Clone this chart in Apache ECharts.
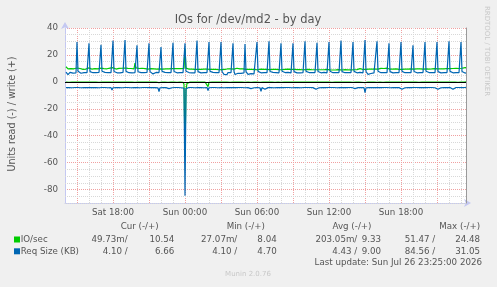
<!DOCTYPE html>
<html>
<head>
<meta charset="utf-8">
<script src="https://cdn.jsdelivr.net/npm/echarts@6/dist/echarts.min.js"></script>
<style>
html,body{margin:0;padding:0;background:#f0f0f0}
#chart{width:497px;height:287px}
</style>
</head>
<body>
<div id="chart"></div>
<script>
// 5 minute samples, first one at Sat 14:05, one row per hour (last value of a row is HH:00)
var startHour = 14 + 5 / 60;
var stepHour = 5 / 60;

// IO/sec read (plotted below zero)
var ioRead = [
  0.1,0.2,0.1,0.3,0.1,0.2,0.1,0.1,0.2,0.1,0.3,0.2,
  0.2,0.1,0.1,0.2,0.3,0.1,0.2,0.1,0.1,0.2,0.1,0.3,
  0.1,0.2,0.3,0.1,0.1,0.2,0.1,0.2,0.1,0.3,0.1,0.2,
  0.2,0.1,0.2,0.1,0.3,0.1,0.2,0.1,0.2,0.1,0.4,0.2,
  0.1,0.2,0.1,0.2,0.1,0.3,0.1,1.5,0.2,0.1,0.2,0.1,
  0.2,0.1,0.3,0.1,0.2,0.1,0.1,0.2,0.1,0.3,0.1,0.2,
  0.1,0.2,0.1,0.1,0.3,0.2,0.1,0.2,0.1,0.1,0.2,0.3,
  0.2,0.1,0.2,0.1,0.1,0.3,0.1,0.2,0.1,0.6,0.2,0.1,
  0.1,0.2,0.1,0.2,0.1,0.1,0.3,0.4,0.1,0.2,0.1,0.2,
  0.2,0.1,0.1,0.3,0.1,0.2,0.1,0.1,0.2,0.3,1.8,51.47,
  6.0,1.2,0.3,0.1,0.2,0.1,0.3,0.1,0.2,0.1,0.1,0.2,
  0.1,0.2,0.1,0.3,0.1,0.1,0.2,0.1,0.2,0.1,3.5,0.3,
  0.2,0.1,0.2,0.1,0.1,0.2,0.3,0.1,0.2,0.1,0.1,0.2,
  0.1,0.3,0.1,0.2,0.1,0.2,0.1,0.1,0.3,0.5,0.1,0.2,
  0.2,0.1,0.1,0.2,0.3,0.1,0.2,0.1,0.1,0.2,0.1,0.3,
  0.1,0.2,0.1,0.1,0.2,0.4,0.1,0.2,0.1,0.3,0.1,0.2,
  0.2,0.1,0.3,0.6,0.1,0.2,0.1,0.4,0.2,0.1,0.2,0.1,
  0.1,0.2,0.1,0.2,0.1,0.3,0.1,0.2,0.1,0.1,0.2,0.3,
  0.2,0.1,0.2,0.1,0.3,0.1,0.1,0.2,0.1,0.2,0.1,0.2,
  0.1,0.3,0.1,0.2,0.1,0.2,0.1,0.1,0.2,0.1,0.3,0.1,
  0.2,0.1,0.1,0.3,0.1,0.2,0.1,0.2,0.1,0.1,0.4,0.2,
  0.1,0.2,0.1,0.1,0.2,0.1,0.3,0.1,0.2,0.1,0.1,0.2,
  0.2,0.1,0.3,0.1,0.1,0.2,0.1,0.2,0.1,0.4,0.2,0.1,
  0.1,0.2,0.1,0.2,0.3,0.1,0.1,0.2,0.1,0.1,0.2,0.3,
  0.2,0.4,0.1,0.1,0.2,0.1,0.2,0.1,0.3,0.1,0.1,0.6,
  0.1,0.2,0.1,0.3,0.1,0.2,0.1,0.2,0.1,0.2,0.1,0.4,
  0.2,0.1,0.2,0.1,0.1,0.3,0.1,0.1,0.2,0.1,0.3,0.1,
  0.1,0.2,0.1,0.2,0.1,0.1,0.2,0.3,0.1,0.2,0.1,0.2,
  0.4,0.1,0.2,0.1,0.3,0.1,0.2,0.1,0.1,0.2,0.1,0.1,
  0.2,0.1,0.1,0.2,0.1,0.3,0.1,0.2,0.1,0.1,0.2,0.1,
  0.1,0.4,0.2,0.1,0.2,0.1,0.1,0.3,0.1,0.2,0.1,0.2,
  0.4,0.1,0.1,0.2,0.1,0.2,0.3,0.1,0.2,0.1,0.1,0.2,
  0.1,0.2,0.1,0.4,0.1,0.1,0.2,0.1,0.3,0.1,0.2,0.1,
  0.1,0.2,0.1,0.1,0.05
];

// IO/sec write (plotted above zero)
var ioWrite = [
  11.2,10.4,9.6,9.9,9.4,9.8,10.1,9.5,9.7,10.0,9.6,10.3,
  9.8,9.4,9.9,10.2,9.6,9.3,9.8,10.0,9.5,9.7,9.9,10.4,
  9.6,9.9,9.4,9.7,10.1,9.8,9.5,9.9,9.6,10.0,9.7,10.2,
  9.9,9.5,9.8,10.3,10.6,9.7,9.4,9.9,10.2,9.6,9.8,10.5,
  10.1,9.7,9.5,9.9,10.4,10.0,9.6,9.8,10.1,9.7,9.9,10.3,
  9.8,9.6,10.0,9.7,9.5,9.9,10.2,9.8,9.6,14.0,10.4,10.2,
  9.7,9.9,9.5,9.8,10.1,9.6,9.4,9.8,10.0,9.7,9.5,10.1,
  9.6,9.8,10.0,9.5,9.7,9.9,9.6,9.4,9.8,10.1,9.7,10.2,
  9.9,9.5,9.7,10.0,9.6,9.8,9.4,9.7,9.9,9.5,9.8,10.3,
  9.6,9.8,9.5,9.7,9.9,9.4,9.6,9.8,9.5,9.7,9.9,24.48,
  10.2,9.4,9.1,9.5,9.3,9.0,9.4,9.2,9.6,9.3,9.1,9.8,
  9.2,9.5,9.0,9.3,9.6,9.1,9.4,9.2,9.0,9.5,9.3,9.9,
  9.3,9.0,9.4,9.2,9.5,9.1,9.3,9.6,9.2,9.0,9.4,9.8,
  9.1,9.4,9.8,9.2,9.9,9.3,9.7,9.5,9.0,9.6,9.2,10.0,
  9.4,9.8,9.2,10.1,9.5,9.1,9.7,9.9,9.3,9.6,9.2,9.9,
  9.2,9.6,9.9,9.3,9.1,9.5,9.2,9.4,9.7,9.1,9.3,9.8,
  9.0,9.3,9.1,9.4,9.2,9.0,9.3,9.1,9.4,9.2,9.0,9.6,
  9.1,9.3,9.0,9.2,9.4,9.1,9.3,9.0,9.2,9.1,9.3,9.7,
  9.0,9.2,9.1,9.3,9.0,9.2,9.4,9.1,9.0,9.3,9.1,9.6,
  9.2,9.0,9.3,9.1,9.2,9.0,9.1,9.3,9.2,9.0,9.1,9.5,
  9.1,9.3,9.0,9.2,9.1,9.3,9.0,9.2,9.1,9.0,9.2,9.6,
  9.0,9.2,9.1,9.0,9.3,9.1,9.0,9.2,9.1,9.3,9.0,9.5,
  8.9,9.1,9.0,8.8,9.0,9.1,8.9,9.0,8.8,9.1,8.9,9.4,
  8.8,9.0,8.9,9.1,8.8,9.0,8.9,8.8,9.0,8.9,9.1,9.4,
  9.0,9.2,9.5,9.1,9.6,9.3,9.8,9.4,9.7,9.2,9.5,9.9,
  9.3,9.6,9.9,9.4,9.8,10.1,9.5,9.7,9.9,9.4,9.6,10.0,
  9.5,9.8,9.4,10.0,9.7,9.5,9.9,9.6,9.8,10.2,9.5,10.0,
  9.4,9.6,9.3,9.5,9.2,9.4,9.6,9.3,9.5,9.2,9.4,9.8,
  9.3,9.5,9.2,9.4,9.6,9.3,9.5,9.7,9.4,9.6,9.3,9.9,
  9.5,9.8,9.4,9.7,9.5,9.9,9.6,9.4,9.8,9.5,9.7,10.1,
  9.6,9.4,9.8,9.5,9.7,9.4,9.6,9.9,9.5,9.8,9.6,10.0,
  9.7,9.5,9.9,9.6,9.8,10.1,9.6,9.8,9.5,9.9,9.7,10.2,
  9.8,10.0,9.6,9.9,10.2,9.7,10.0,9.8,10.1,9.9,10.3,10.4,
  10.1,10.4,10.2,10.6,10.54
];

// Req Size (KB) read (plotted below zero)
var reqRead = [
  4.3,4.2,4.4,4.3,4.2,4.3,4.4,4.2,4.3,4.2,4.4,4.3,
  4.2,4.3,4.2,4.4,4.3,4.2,4.3,4.2,4.4,4.3,4.2,4.3,
  4.3,4.2,5.1,4.3,4.2,4.4,4.3,4.2,4.3,4.4,4.2,4.3,
  4.2,4.4,4.3,4.2,4.3,4.2,4.4,4.3,4.2,4.3,6.0,4.4,
  4.3,4.2,4.3,4.4,4.2,4.3,4.2,4.3,4.4,4.2,4.3,4.2,
  4.4,4.3,4.2,4.3,4.2,4.4,4.3,4.2,4.3,4.2,4.4,4.3,
  4.2,4.3,4.4,4.2,4.3,4.2,4.3,4.4,4.2,4.3,4.2,4.3,
  4.3,4.2,4.3,4.2,4.4,4.3,4.2,4.3,4.5,7.2,4.4,4.3,
  4.2,4.3,4.2,4.4,4.3,4.2,4.3,5.0,4.3,4.2,4.4,4.3,
  4.3,4.2,4.4,4.3,4.2,4.3,4.2,4.4,4.3,4.2,4.6,84.56,
  5.0,4.4,4.3,4.2,4.3,4.4,4.2,4.3,4.2,4.4,4.3,4.2,
  4.3,4.2,4.4,4.3,4.2,4.3,4.4,4.2,4.3,4.2,6.5,4.4,
  4.2,4.3,4.2,4.4,4.3,4.2,4.3,4.2,4.4,4.3,4.2,4.3,
  4.3,4.2,4.4,4.3,4.2,4.3,4.2,4.4,4.3,5.1,4.2,4.3,
  4.2,4.4,4.3,4.2,4.3,4.2,4.4,4.3,4.2,4.3,4.2,4.4,
  4.3,4.2,4.3,4.4,4.2,5.0,4.3,4.2,4.4,4.3,4.2,4.3,
  4.2,4.3,4.4,7.0,4.3,4.2,4.3,5.5,4.2,4.4,4.3,4.2,
  4.3,4.2,4.3,4.2,4.4,4.3,4.2,4.3,4.2,4.4,4.3,4.2,
  4.4,4.3,4.2,4.3,4.2,4.4,4.3,4.2,4.3,4.2,4.4,4.3,
  4.2,4.3,4.4,4.2,4.3,4.2,4.3,4.4,4.2,4.3,4.2,4.3,
  4.3,4.2,4.3,4.4,4.2,4.3,4.2,4.3,4.4,4.2,5.5,4.3,
  4.2,4.4,4.3,4.2,4.3,4.2,4.4,4.3,4.2,4.3,4.2,4.4,
  4.3,4.2,4.4,4.3,4.2,4.3,4.2,4.4,4.3,5.0,4.2,4.3,
  4.2,4.3,4.2,4.4,4.3,4.2,4.3,4.2,4.4,4.3,4.2,4.3,
  4.4,5.0,4.3,4.2,4.3,4.2,4.4,4.3,4.2,4.3,4.2,8.0,
  4.4,4.3,4.2,4.3,4.4,4.2,4.3,4.2,4.4,4.3,4.2,5.0,
  4.3,4.2,4.4,4.3,4.2,4.3,4.2,4.4,4.3,4.2,4.3,4.2,
  4.4,4.3,4.2,4.3,4.2,4.4,4.3,4.2,4.3,4.2,4.4,4.3,
  5.5,4.3,4.2,4.4,4.3,4.2,4.3,4.2,4.4,4.3,4.2,4.3,
  4.2,4.3,4.4,4.2,4.3,4.2,4.3,4.4,4.2,4.3,4.2,4.3,
  4.3,5.0,4.3,4.2,4.4,4.3,4.2,4.3,4.2,4.4,4.3,4.2,
  5.5,4.3,4.2,4.4,4.3,4.2,4.3,4.2,4.4,4.3,4.2,4.3,
  4.2,4.4,4.3,5.5,4.2,4.3,4.2,4.4,4.3,4.2,4.3,4.2,
  4.3,4.2,4.4,4.2,4.10
];

// Req Size (KB) write (plotted above zero), hourly peaks
var reqWrite = [
  7.2,6.9,5.3,6.6,7.0,6.8,6.9,6.5,6.8,7.1,6.7,29.6,
  7.8,6.8,6.9,6.4,6.8,5.6,6.9,7.0,6.7,6.8,6.6,28.6,
  7.6,6.7,6.9,6.8,7.0,6.5,6.9,6.8,6.6,7.0,6.9,27.5,
  7.9,6.8,6.6,7.0,6.9,6.7,6.8,5.8,6.9,6.8,6.7,30.6,
  7.7,6.9,6.8,6.7,7.0,6.9,6.6,6.8,6.9,7.0,6.8,31.05,
  7.8,6.6,6.9,6.8,5.5,6.9,6.7,7.0,6.8,6.9,6.7,27.2,
  7.5,6.8,7.0,6.9,6.7,6.8,6.9,6.5,6.8,7.0,6.8,28.6,
  7.6,6.9,6.7,5.9,6.8,6.9,7.0,6.8,6.6,6.9,6.8,25.9,
  7.8,6.8,6.9,7.0,6.7,6.8,6.9,6.7,5.6,6.8,6.9,29.1,
  7.7,6.9,6.8,6.7,6.9,7.0,6.8,6.9,6.7,6.8,6.9,28.6,
  7.9,6.8,6.7,6.9,7.0,6.8,6.6,6.9,6.8,6.7,6.9,30.6,
  7.6,6.8,6.9,6.7,6.8,5.7,6.9,7.0,6.8,6.9,6.7,29.6,
  7.8,6.9,6.8,7.0,6.7,6.9,6.8,6.9,6.6,6.8,6.9,29.6,
  7.7,6.8,5.6,6.9,6.2,5.4,6.9,6.1,5.9,6.8,6.7,28.6,
  7.8,5.5,6.8,5.2,6.4,6.9,5.6,6.3,6.8,5.8,6.7,28.1,
  7.6,6.2,5.5,6.8,6.9,6.1,6.8,6.7,5.9,6.8,6.9,29.6,
  7.8,6.9,6.8,6.7,7.0,6.9,6.8,6.6,6.9,6.8,6.7,30.1,
  7.7,6.8,6.9,7.0,6.8,6.7,6.9,6.8,6.9,6.7,6.8,28.6,
  7.9,6.7,6.8,6.9,6.7,6.8,7.0,6.9,6.8,6.6,6.9,28.6,
  7.6,6.9,6.8,6.7,6.9,6.8,6.7,6.9,7.0,6.8,6.7,30.1,
  7.8,6.8,6.7,6.9,6.8,7.0,6.9,6.8,6.7,6.9,6.8,29.1,
  7.7,6.9,6.8,6.7,6.8,6.9,7.0,6.8,6.9,6.7,6.8,29.6,
  7.9,6.8,6.9,6.8,6.7,6.9,6.8,5.9,6.8,6.9,6.7,30.6,
  7.6,6.7,6.9,6.8,7.0,6.8,6.9,6.7,6.8,6.9,6.8,29.6,
  7.8,6.9,6.8,6.7,6.9,6.8,7.0,6.8,6.9,6.7,6.8,31.0,
  7.7,6.8,5.6,6.9,6.8,6.2,6.9,6.8,6.7,6.9,6.8,30.1,
  7.9,6.7,6.9,6.8,6.0,6.9,6.8,6.7,6.9,6.8,6.7,28.6,
  7.6,6.9,6.8,6.7,6.9,6.5,6.8,6.9,6.7,6.8,6.9,29.6,
  7.8,6.8,6.9,6.8,6.7,6.9,6.8,6.9,6.7,6.8,6.9,27.2,
  7.7,6.9,6.8,6.7,6.9,6.8,6.9,6.7,6.8,6.9,6.7,29.6,
  7.9,6.8,6.7,6.9,6.8,6.9,6.8,6.7,6.9,6.8,6.7,29.6,
  7.6,6.9,6.8,6.7,6.9,6.8,6.9,6.8,6.7,6.9,6.8,30.1,
  7.8,6.8,6.9,6.7,6.8,6.9,6.8,6.7,6.9,6.8,6.7,29.6,
  7.7,6.9,6.8,6.5,6.66
];

var yLabelValues = [-80, -60, -40, -20, 0, 20, 40];
var xLabelHours = [18, 24, 30, 36, 42];
var dayNames = ['Sat', 'Sun'];

var legendNames = ['IO/sec', 'Req Size (KB)'];
var legendHeads = ['Cur (-/+)', 'Min (-/+)', 'Avg (-/+)', 'Max (-/+)'];
var ioStats = ['49.73m/', '10.54', '27.07m/', '8.04', '203.05m/', '9.33', '51.47 /', '24.48'];
var reqStats = ['4.10 /', '6.66', '4.10 /', '4.70', '4.43 /', '9.00', '84.56 /', '31.05'];

var GREEN = '#00cc00';
var BLUE = '#0066b3';
var TXT = '#555555';
var FONT = '"DejaVu Sans", sans-serif';

function toPoints(arr, sign) {
  return arr.map(function (v, i) { return [startHour + i * stepHour, sign * v]; });
}

function lineSeries(data, color, extra) {
  var s = {
    type: 'line',
    data: data,
    showSymbol: false,
    symbol: 'none',
    silent: true,
    lineStyle: { color: color, width: 1.2 },
    itemStyle: { color: color }
  };
  if (extra) for (var k in extra) s[k] = extra[k];
  return s;
}

function txt(x, y, s, o) {
  o = o || {};
  return {
    type: 'text', x: x, y: y, rotation: o.rot || 0, silent: true,
    style: {
      text: s, fill: o.color || TXT,
      font: (o.size || 8.7) + 'px ' + FONT,
      textAlign: o.align || 'left', align: o.align || 'left',
      textVerticalAlign: 'middle', verticalAlign: 'middle'
    }
  };
}

var graphics = [
  txt(248, 20.5, 'IOs for /dev/md2 - by day', { size: 11.5, align: 'center' }),
  txt(12, 114, 'Units read (-) / write (+)', { size: 9.6, align: 'center', rot: Math.PI / 2 }),
  txt(487, 51, 'RRDTOOL / TOBI OETIKER', { size: 7, align: 'center', rot: -Math.PI / 2, color: '#c8c8c8' }),
  txt(248, 274.5, 'Munin 2.0.76', { size: 7, align: 'center', color: '#c8c8c8' }),
  txt(482, 263, 'Last update: Sun Jul 26 23:25:00 2026', { align: 'right' })
];

var headX = [139.7, 245.8, 352, 459.7];
legendHeads.forEach(function (h, i) { graphics.push(txt(headX[i], 227, h, { align: 'center' })); });

var rowY = [239.5, 251.3];
var rowColor = [GREEN, BLUE];
var statRight = [127.7, 174.3, 237.3, 276.7, 357.3, 381, 435.3, 480];
[ioStats, reqStats].forEach(function (row, r) {
  graphics.push({ type: 'rect', silent: true, shape: { x: 14, y: rowY[r] - 3, width: 6, height: 6 }, style: { fill: rowColor[r] } });
  graphics.push(txt(20.7, rowY[r], legendNames[r]));
  row.forEach(function (v, i) { graphics.push(txt(statRight[i], rowY[r], v, { align: 'right' })); });
});

var chart = echarts.init(document.getElementById('chart'));
chart.setOption({
  backgroundColor: '#f0f0f0',
  animation: false,
  grid: { left: 65, right: 31, top: 28, bottom: 84, show: true, backgroundColor: '#ffffff', borderWidth: 0 },
  xAxis: {
    type: 'value', min: 14, max: 47 + 25 / 60, interval: 1, z: 0,
    axisLine: { onZero: false, lineStyle: { color: '#c4c8f2' }, symbol: ['none', 'arrow'], symbolSize: [6, 7], symbolOffset: [0, 5] },
    axisTick: { show: false },
    axisLabel: {
      color: TXT, fontSize: 8.7, fontFamily: FONT, margin: 5,
      formatter: function (v) {
        if (xLabelHours.indexOf(v) < 0) return '';
        return dayNames[Math.floor(v / 24)] + ' ' + ('0' + (v % 24)).slice(-2) + ':00';
      }
    },
    splitLine: { show: true, lineStyle: { color: ['#d8d8d8', '#f0a0a0', '#d8d8d8'], type: [1, 1], width: 1 } }
  },
  yAxis: [{
    type: 'value', min: -90, max: 40, interval: 10, position: 'left', z: 0,
    axisLine: { show: true, lineStyle: { color: '#c4c8f2' }, symbol: ['none', 'arrow'], symbolSize: [6, 7], symbolOffset: [0, 6] },
    axisTick: { show: false },
    axisLabel: {
      color: TXT, fontSize: 8.7, fontFamily: FONT, margin: 7,
      formatter: function (v) { return yLabelValues.indexOf(v) < 0 ? '' : String(v); }
    },
    splitLine: { show: true, lineStyle: { color: ['rgba(0,0,0,0)', '#f0a0a0'], type: [1, 1], width: 1 } }
  }, {
    type: 'value', min: -90, max: 40, interval: 5, position: 'right', z: 1,
    axisLine: { show: true, lineStyle: { color: '#9a9a9a' } },
    axisTick: { show: false },
    axisLabel: { show: false },
    splitLine: { show: true, lineStyle: { color: ['#d8d8d8', '#d8d8d8', 'rgba(0,0,0,0)', '#d8d8d8'], type: [1, 1], width: 1 } }
  }],
  series: [
    lineSeries(toPoints(ioRead, -1), GREEN),
    lineSeries(toPoints(ioWrite, 1), GREEN),
    lineSeries(toPoints(reqRead, -1), BLUE),
    lineSeries(toPoints(reqWrite, 1), BLUE, {
      markLine: {
        silent: true, symbol: ['none', 'none'], label: { show: false },
        lineStyle: { color: '#000000', type: 'solid', width: 1 },
        data: [{ yAxis: 0 }]
      }
    })
  ],
  graphic: graphics
});
</script>
</body>
</html>
